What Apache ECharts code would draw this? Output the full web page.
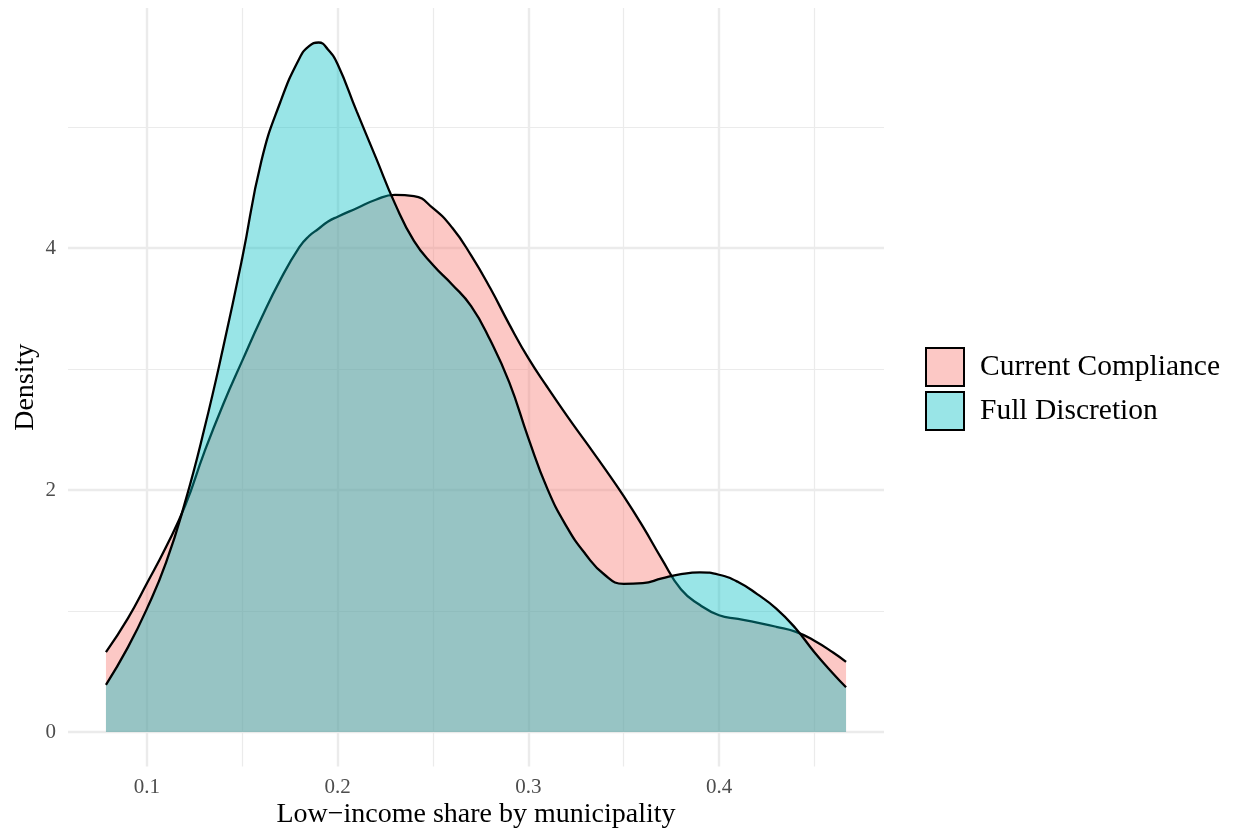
<!DOCTYPE html>
<html>
<head>
<meta charset="utf-8">
<style>
  html, body { margin: 0; padding: 0; background: #ffffff; }
  #chart { width: 1238px; height: 838px; }
</style>
<script src="https://cdn.jsdelivr.net/npm/echarts@6/dist/echarts.min.js"></script>
</head>
<body>
<div id="chart"></div>
<script>
// Evaluation points of the two density estimates (low-income share)
const shareValues = [
  0.0785, 0.09, 0.10, 0.11, 0.12, 0.13, 0.14, 0.15, 0.16, 0.17,
  0.18, 0.185, 0.19, 0.195, 0.20, 0.21, 0.22, 0.23, 0.24, 0.25,
  0.26, 0.27, 0.28, 0.29, 0.30, 0.31, 0.32, 0.33, 0.34, 0.35,
  0.36, 0.37, 0.38, 0.39, 0.40, 0.41, 0.42, 0.43, 0.44, 0.45,
  0.46, 0.4666
];

// Density under current compliance
const currentCompliance = [
  0.66, 0.94, 1.23, 1.53, 1.87, 2.31, 2.71, 3.07, 3.42, 3.74,
  4.01, 4.10, 4.16, 4.22, 4.26, 4.33, 4.40, 4.44, 4.43, 4.33,
  4.17, 3.94, 3.67, 3.37, 3.09, 2.85, 2.62, 2.40, 2.18, 1.95,
  1.70, 1.43, 1.18, 1.05, 0.965, 0.935, 0.905, 0.87, 0.83, 0.755,
  0.655, 0.58
];

// Density under full discretion
const fullDiscretion = [
  0.39, 0.70, 1.02, 1.40, 1.90, 2.50, 3.18, 3.92, 4.72, 5.21,
  5.57, 5.67, 5.70, 5.64, 5.52, 5.13, 4.75, 4.37, 4.06, 3.86,
  3.70, 3.52, 3.24, 2.89, 2.43, 2.01, 1.70, 1.47, 1.30, 1.225,
  1.23, 1.27, 1.305, 1.32, 1.30, 1.24, 1.14, 1.02, 0.86, 0.66,
  0.48, 0.37
];

const seriesNames = ['Current Compliance', 'Full Discretion'];

// Axis breaks
const xMajorTicks = [0.1, 0.2, 0.3, 0.4];
const xMinorTicks = [0.15, 0.25, 0.35, 0.45];
const yMajorTicks = [0, 2, 4];
const yMinorTicks = [1, 3, 5];

const xTitle = 'Low\u2212income share by municipality';
const yTitle = 'Density';

const FONT = '"Liberation Serif", "DejaVu Serif", serif';
const fills = ['rgba(248,118,109,0.4)', 'rgba(0,191,196,0.4)'];
const gridColor = '#EBEBEB';

const pairs = (vals) => shareValues.map((x, i) => [x, vals[i]]);

const gridLines = [].concat(
  xMajorTicks.map(v => ({ xAxis: v, lineStyle: { width: 2.4 } })),
  xMinorTicks.map(v => ({ xAxis: v, lineStyle: { width: 1.2 } })),
  yMajorTicks.map(v => ({ yAxis: v, lineStyle: { width: 2.4 } })),
  yMinorTicks.map(v => ({ yAxis: v, lineStyle: { width: 1.2 } }))
);

// Density curves sit on their own canvas layer above the panel grid;
// each later group gets a higher z so its fill covers earlier outlines.
const densitySeries = (name, vals, fill, z) => ({
  name: name,
  type: 'line',
  data: pairs(vals),
  smooth: 0.5,
  showSymbol: false,
  symbol: 'none',
  zlevel: 1,
  z: z,
  lineStyle: { color: '#000000', width: 2.3 },
  itemStyle: { color: fill },
  areaStyle: { color: fill, opacity: 1 },
  emphasis: { disabled: true },
  animation: false
});

const chart = echarts.init(document.getElementById('chart'), null, { renderer: 'canvas' });

chart.setOption({
  backgroundColor: '#ffffff',
  animation: false,
  grid: { left: 68, right: 354, top: 8, bottom: 71.5, containLabel: false },
  xAxis: {
    type: 'value',
    min: 0.0586,
    max: 0.4865,
    axisLine: { show: false },
    axisTick: { show: false },
    splitLine: { show: false },
    axisLabel: {
      customValues: xMajorTicks,
      color: '#4D4D4D',
      fontFamily: FONT,
      fontSize: 21,
      margin: 10,
      formatter: (v) => String(Math.round(v * 10) / 10)
    },
    name: xTitle,
    nameLocation: 'middle',
    nameGap: 34,
    nameMoveOverlap: false,
    nameTextStyle: { color: '#000000', fontFamily: FONT, fontSize: 28 }
  },
  yAxis: {
    type: 'value',
    min: -0.285,
    max: 5.985,
    axisLine: { show: false },
    axisTick: { show: false },
    splitLine: { show: false },
    axisLabel: {
      customValues: yMajorTicks,
      color: '#4D4D4D',
      fontFamily: FONT,
      fontSize: 21,
      margin: 12,
      formatter: (v) => String(Math.round(v))
    },
    name: yTitle,
    nameLocation: 'middle',
    nameRotate: 90,
    nameGap: 28,
    nameMoveOverlap: false,
    nameTextStyle: { color: '#000000', fontFamily: FONT, fontSize: 28 }
  },
  legend: {
    orient: 'vertical',
    left: 925,
    top: 347,
    padding: 0,
    itemWidth: 38,
    itemHeight: 38,
    itemGap: 4,
    icon: 'rect',
    selectedMode: false,
    textStyle: { color: '#000000', fontFamily: FONT, fontSize: 29.5, padding: [4, 0, 0, 11] },
    data: seriesNames.map((n, i) => ({
      name: n,
      icon: 'rect',
      itemStyle: { color: fills[i], borderColor: '#000000', borderWidth: 2 }
    }))
  },
  series: [
    {
      name: 'panel grid',
      type: 'line',
      data: [],
      zlevel: 0,
      z: 0,
      silent: true,
      markLine: {
        silent: true,
        z: 0,
        symbol: ['none', 'none'],
        label: { show: false },
        emphasis: { disabled: true },
        animation: false,
        lineStyle: { color: gridColor, type: 'solid' },
        data: gridLines
      }
    },
    densitySeries(seriesNames[0], currentCompliance, fills[0], 2),
    densitySeries(seriesNames[1], fullDiscretion, fills[1], 3)
  ]
});
</script>
</body>
</html>
